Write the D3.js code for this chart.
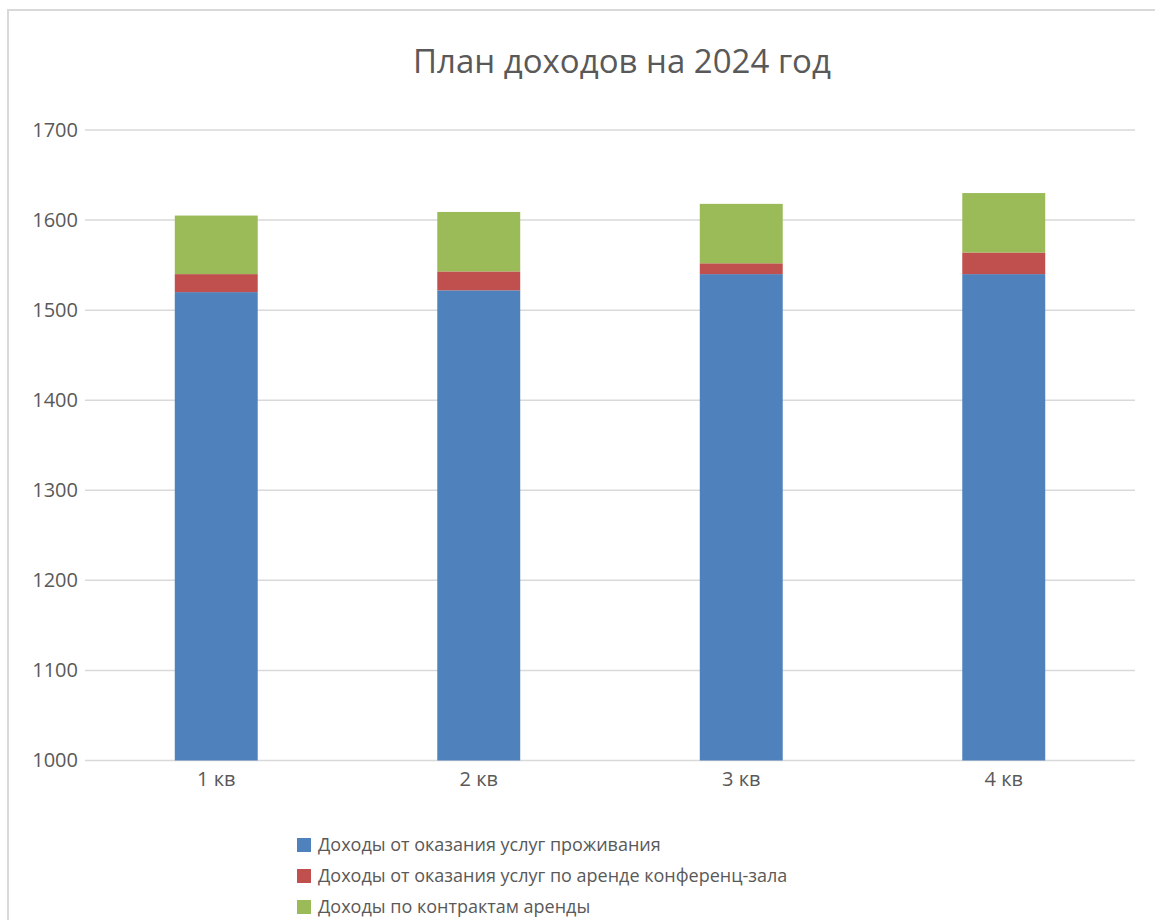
<!DOCTYPE html>
<html>
<head>
<meta charset="utf-8">
<script src="https://cdn.jsdelivr.net/npm/d3@7"></script>
<style>
  body { margin: 0; background: #fff; }
  text { font-family: "Open Sans", sans-serif; fill: #595959; }
</style>
</head>
<body>
<div class="container"></div>
<script>
const WIDTH = 1155;
const HEIGHT = 920;

var quarters = ['1 кв', '2 кв', '3 кв', '4 кв'];
var seriesNames = [
    'Доходы от оказания услуг проживания',
    'Доходы от оказания услуг по аренде конференц-зала',
    'Доходы по контрактам аренды'
];
var accommodation = [1520, 1522, 1540, 1540];
var conferenceHall = [20, 21, 12, 24];
var leaseContracts = [65, 66, 66, 66];
var yTicks = [1000, 1100, 1200, 1300, 1400, 1500, 1600, 1700];
var colors = ['#4f81bd', '#c0504d', '#9bbb59'];

var translate = function(x, y) {
    return `translate(${x},${y})`;
};

var fillLayout = function() {
    var svg = d3.select('.container').append('svg')
        .attr('width', WIDTH)
        .attr('height', HEIGHT);

    // chart border
    svg.append('rect')
        .attr('x', 8).attr('y', 10)
        .attr('width', WIDTH + 10).attr('height', HEIGHT + 10)
        .attr('fill', 'none')
        .attr('stroke', '#d9d9d9')
        .attr('stroke-width', 2);

    svg.append('text')
        .attr('x', 622).attr('y', 73)
        .attr('text-anchor', 'middle')
        .style('font-size', '33px')
        .text('План доходов на 2024 год');

    var left = 85, right = 1135, top = 130, bottom = 760.5;

    var xScale = d3.scaleBand()
        .domain(quarters)
        .range([left, right])
        .paddingInner(0.684)
        .paddingOuter(0.342);

    var yScale = d3.scaleLinear()
        .domain([1000, 1700])
        .range([bottom, top]);

    // gridlines
    svg.append('g')
        .selectAll('line').data(yTicks).enter()
        .append('line')
        .attr('x1', left).attr('x2', right)
        .attr('y1', (d) => yScale(d)).attr('y2', (d) => yScale(d))
        .attr('stroke', '#d9d9d9')
        .attr('stroke-width', 1.5);

    var yAxis = d3.axisLeft(yScale).tickValues(yTicks).tickFormat(d3.format('d'))
        .tickSize(0).tickPadding(7);
    var yg = svg.append('g')
        .attr('transform', translate(left, 0))
        .call(yAxis);
    yg.select('.domain').remove();
    yg.selectAll('text').style('font-size', '20px').attr('fill', '#595959');

    var table = quarters.map((q, i) => ({
        q: q,
        a: accommodation[i],
        b: conferenceHall[i],
        c: leaseContracts[i]
    }));
    var stacked = d3.stack().keys(['a', 'b', 'c'])(table);

    svg.append('g')
        .selectAll('g').data(stacked).enter()
        .append('g')
        .attr('fill', (d, i) => colors[i])
        .selectAll('rect').data((d) => d).enter()
        .append('rect')
        .attr('x', (d) => xScale(d.data.q))
        .attr('width', xScale.bandwidth())
        .attr('y', (d) => yScale(d[1]))
        // bottom segment is clipped at the axis minimum
        .attr('height', (d) => yScale(Math.max(d[0], 1000)) - yScale(d[1]));

    var xAxis = d3.axisBottom(xScale).tickSize(0).tickPadding(11);
    var xg = svg.append('g')
        .attr('transform', translate(0, bottom))
        .call(xAxis);
    xg.select('.domain').remove();
    xg.selectAll('text').style('font-size', '20px').attr('fill', '#595959');

    // legend
    var legend = svg.append('g')
        .selectAll('g').data(seriesNames).enter()
        .append('g')
        .attr('transform', (d, i) => translate(297, 845 + i * 31));
    legend.append('rect')
        .attr('x', 0).attr('y', -7)
        .attr('width', 14).attr('height', 14)
        .attr('fill', (d, i) => colors[i]);
    legend.append('text')
        .attr('x', 21).attr('y', 0)
        .attr('dy', '0.35em')
        .style('font-size', '18px')
        .text((d) => d);
};
window.onload = fillLayout;
</script>
</body>
</html>
